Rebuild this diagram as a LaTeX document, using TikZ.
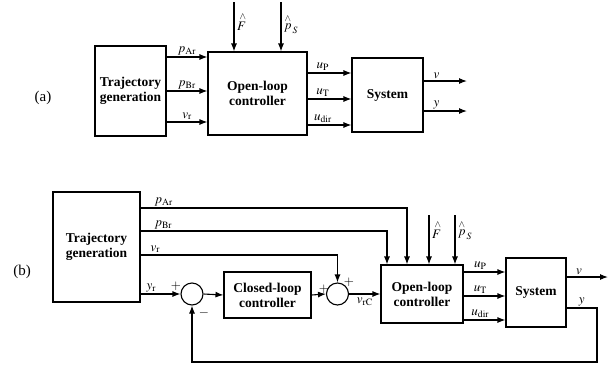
\documentclass[tikz,border=0pt]{standalone}
\usepackage{mathptmx}
\usepackage[no-math]{fontspec}
\setmainfont{Liberation Serif}
\usetikzlibrary{arrows.meta}
\tikzset{
	block/.style={draw,line width=1.1pt,align=center,inner sep=2pt,font=\bfseries\fontsize{13.5}{15}\selectfont},
	sumnode/.style={draw,circle,line width=1.1pt,minimum size=22pt,inner sep=0pt},
	sig/.style={-{Latex[length=8pt,width=6pt]},line width=1.1pt},
	lab/.style={font=\fontsize{13}{14}\selectfont,inner sep=1.5pt},
	sgn/.style={font=\bfseries\fontsize{13}{14}\selectfont,inner sep=0pt}
}
\newcommand{\hatF}{\stackrel{\wedge}{F}}
\newcommand{\hatpS}{{\stackrel{\wedge}{p}}\mkern1.5mu{}_{S}}

\begin{document}
\begin{tikzpicture}[x=1pt,y=-1pt]
	\useasboundingbox (0,0) rectangle (611,365);
	% part (a)
	\node (la) at (43,98) {\fontsize{15}{17}\selectfont (a)};
	\node[block,minimum width=71pt,minimum height=90pt] (tra) at (130.5,91) {Trajectory\\generation};
	\node[block,minimum width=99pt,minimum height=83pt] (ola) at (257.5,93.5) {Open-loop\\controller};
	\node[block,minimum width=71pt,minimum height=74pt] (sysa) at (387.5,95) {System};
	\coordinate (pAa) at (0,57);
	\coordinate (pBa) at (0,91);
	\coordinate (vra) at (0,122);
	\coordinate (uPa) at (0,73);
	\coordinate (uTa) at (0,99);
	\coordinate (uDa) at (0,125);
	\coordinate (Fa) at (234,2);
	\coordinate (pSa) at (281,2);
	\coordinate (va) at (467,81);
	\coordinate (ya) at (467,111);
	\draw[sig] (tra.east|-pAa) -- (ola.west|-pAa) node[lab,midway,above]{$p_{\mathrm{Ar}}$};
	\draw[sig] (tra.east|-pBa) -- (ola.west|-pBa) node[lab,midway,above]{$p_{\mathrm{Br}}$};
	\draw[sig] (tra.east|-vra) -- (ola.west|-vra) node[lab,midway,above]{$v_{\mathrm{r}}$};
	\draw[sig] (Fa) -- (Fa|-ola.north) node[lab,pos=0.4,right,xshift=1pt]{$\hatF$};
	\draw[sig] (pSa) -- (pSa|-ola.north) node[lab,pos=0.45,right,xshift=1pt]{$\hatpS$};
	\draw[sig] (ola.east|-uPa) -- (sysa.west|-uPa) node[lab,pos=0.35,above]{$u_{\mathrm{P}}$};
	\draw[sig] (ola.east|-uTa) -- (sysa.west|-uTa) node[lab,pos=0.35,above]{$u_{\mathrm{T}}$};
	\draw[sig] (ola.east|-uDa) -- (sysa.west|-uDa) node[lab,pos=0.35,above]{$u_{\mathrm{dir}}$};
	\draw[sig] (sysa.east|-va) -- (va) node[lab,pos=0.3,above]{$v$};
	\draw[sig] (sysa.east|-ya) -- (ya) node[lab,pos=0.3,above]{$y$};
	% part (b)
	\node (lb) at (22,272) {\fontsize{15}{17}\selectfont (b)};
	\node[block,minimum width=87pt,minimum height=110pt] (trb) at (96.5,247) {Trajectory\\generation};
	\node[sumnode] (sum1) at (192,294) {};
	\node[block,minimum width=87pt,minimum height=46pt] (clc) at (267.5,295) {Closed-loop\\controller};
	\node[sumnode] (sum2) at (337.5,294) {};
	\node[block,minimum width=82pt,minimum height=58pt] (olb) at (422,294) {Open-loop\\controller};
	\node[block,minimum width=60pt,minimum height=69pt] (sysb) at (536,292.5) {System};
	\node[sgn] (s1a) at (176,286) {$+$};
	\node[sgn] (s1b) at (204,313) {$-$};
	\node[sgn] (s2a) at (349,282) {$+$};
	\node[sgn] (s2b) at (324,289) {$+$};
	\coordinate (kA) at (407,208);
	\coordinate (kB) at (387,231);
	\coordinate (vrb) at (0,255);
	\coordinate (Fb) at (429,215);
	\coordinate (pSb) at (455,215);
	\coordinate (uPb) at (0,272);
	\coordinate (uTb) at (0,296);
	\coordinate (uDb) at (0,320);
	\coordinate (vb) at (608,277);
	\coordinate (yc) at (597,308);
	\coordinate (fb) at (597,362);
	\draw[sig] (trb.east|-kA) node[lab,above right,xshift=12pt]{$p_{\mathrm{Ar}}$} -| (kA|-olb.north);
	\draw[sig] (trb.east|-kB) node[lab,above right,xshift=12pt]{$p_{\mathrm{Br}}$} -| (kB|-olb.north);
	\draw[sig] (trb.east|-vrb) node[lab,above right,xshift=8pt]{$v_{\mathrm{r}}$} -| (sum2.north);
	\draw[sig] (trb.east|-sum1) node[lab,above right,xshift=4pt]{$y_{\mathrm{r}}$} -- (sum1.west);
	\draw[sig] (sum1.east) -- (clc.west);
	\draw[sig] (clc.east) -- (sum2.west);
	\draw[sig] (sum2.east) -- (olb.west) node[lab,pos=0.5,below,yshift=-2pt]{$v_{\mathrm{rC}}$};
	\draw[sig] (Fb) -- (Fb|-olb.north) node[lab,pos=0.3,right,xshift=1pt]{$\hatF$};
	\draw[sig] (pSb) -- (pSb|-olb.north) node[lab,pos=0.3,right,xshift=1pt]{$\hatpS$};
	\draw[sig] (olb.east|-uPb) -- (sysb.west|-uPb) node[lab,pos=0.4,above]{$u_{\mathrm{P}}$};
	\draw[sig] (olb.east|-uTb) -- (sysb.west|-uTb) node[lab,pos=0.4,above]{$u_{\mathrm{T}}$};
	\draw[sig] (olb.east|-uDb) -- (sysb.west|-uDb) node[lab,pos=0.4,above]{$u_{\mathrm{dir}}$};
	\draw[sig] (sysb.east|-vb) -- (vb) node[lab,pos=0.3,above]{$v$};
	\draw[sig] (sysb.east|-yc) -- node[lab,above]{$y$} (yc) -- (fb) -| (sum1.south);
\end{tikzpicture}
\end{document}
